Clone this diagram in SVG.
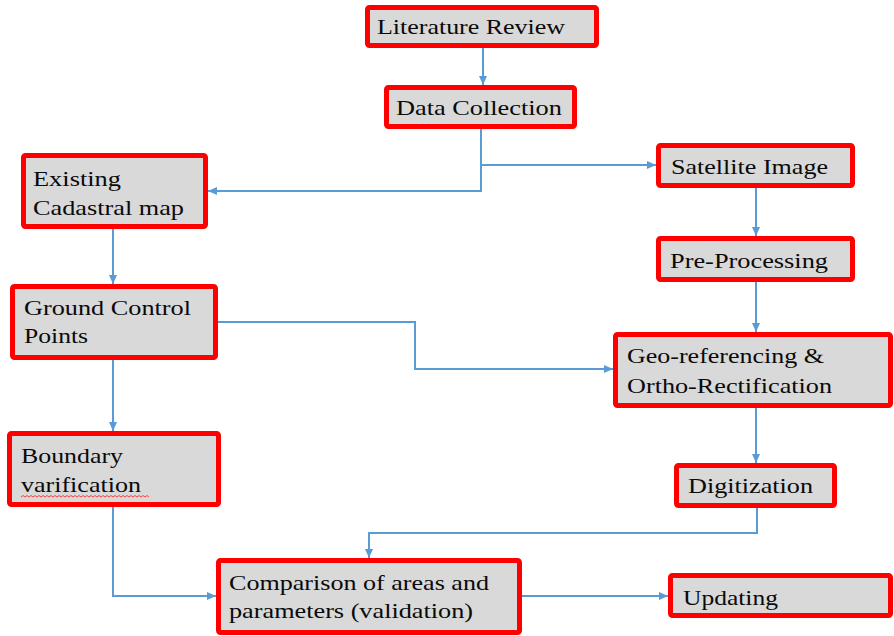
<svg xmlns="http://www.w3.org/2000/svg" width="894" height="636" viewBox="0 0 894 636">
<style>
.box{fill:#d9d9d9;stroke:#ff0000;stroke-width:5;}
text{font-family:'Liberation Serif','Times New Roman',serif;font-size:22px;fill:#0a0a0a;}
.c{fill:none;stroke:#5b9bd5;stroke-width:2;}
.a{marker-end:url(#ah);}
</style>
<defs>
<marker id="ah" markerUnits="userSpaceOnUse" markerWidth="9" markerHeight="8" refX="9" refY="4" orient="auto">
<path d="M0,0 L9,4 L0,8 z" fill="#5b9bd5"/>
</marker>
</defs>
<rect width="894" height="636" fill="#ffffff"/>
<g id="connectors">
<path class="c a" d="M483,48 V85"/>
<path class="c a" d="M481,129 V191 H208"/>
<path class="c a" d="M481,165 H656"/>
<path class="c a" d="M113,229 V284"/>
<path class="c a" d="M218,322 H415 V369 H613"/>
<path class="c a" d="M756,188 V236"/>
<path class="c a" d="M756,282 V332"/>
<path class="c a" d="M113,360 V431"/>
<path class="c a" d="M756,408 V463"/>
<path class="c a" d="M757,508 V533 H369 V558"/>
<path class="c a" d="M113,507 V596 H216"/>
<path class="c a" d="M522,596 H668"/>
</g>
<g id="literature-review">
<rect class="box" x="367.5" y="7.5" width="229" height="38" rx="2"/>
<text transform="translate(377,34) scale(1.15,1)" textLength="163.5" lengthAdjust="spacingAndGlyphs">Literature Review</text>
</g>
<g id="data-collection">
<rect class="box" x="386.5" y="87.5" width="188" height="39" rx="2"/>
<text transform="translate(396,115) scale(1.15,1)" textLength="144.3" lengthAdjust="spacingAndGlyphs">Data Collection</text>
</g>
<g id="existing-cadastral-map">
<rect class="box" x="23.5" y="155.5" width="182" height="71" rx="2"/>
<text transform="translate(33,186) scale(1.15,1)" textLength="76.5" lengthAdjust="spacingAndGlyphs">Existing</text>
<text transform="translate(33,215) scale(1.15,1)" textLength="131.3" lengthAdjust="spacingAndGlyphs">Cadastral map</text>
</g>
<g id="ground-control-points">
<rect class="box" x="12.5" y="286.5" width="203" height="71" rx="2"/>
<text transform="translate(24,315) scale(1.15,1)" textLength="145.2" lengthAdjust="spacingAndGlyphs">Ground Control</text>
<text transform="translate(24,343) scale(1.15,1)" textLength="55.7" lengthAdjust="spacingAndGlyphs">Points</text>
</g>
<g id="satellite-image">
<rect class="box" x="658.5" y="145.5" width="194" height="40" rx="2"/>
<text transform="translate(671,174) scale(1.15,1)" textLength="136.5" lengthAdjust="spacingAndGlyphs">Satellite Image</text>
</g>
<g id="pre-processing">
<rect class="box" x="658.5" y="238.5" width="194" height="41" rx="2"/>
<text transform="translate(670,268) scale(1.15,1)" textLength="137.4" lengthAdjust="spacingAndGlyphs">Pre-Processing</text>
</g>
<g id="geo-referencing">
<rect class="box" x="615.5" y="334.5" width="275" height="71" rx="2"/>
<text transform="translate(627,363) scale(1.15,1)" textLength="171.3" lengthAdjust="spacingAndGlyphs">Geo-referencing &amp;</text>
<text transform="translate(627,393) scale(1.15,1)" textLength="178.3" lengthAdjust="spacingAndGlyphs">Ortho-Rectification</text>
</g>
<g id="boundary-varification">
<rect class="box" x="9.5" y="433.5" width="209" height="71" rx="2"/>
<text transform="translate(21,463) scale(1.15,1)" textLength="88.7" lengthAdjust="spacingAndGlyphs">Boundary</text>
<text transform="translate(21,492) scale(1.15,1)" textLength="104.3" lengthAdjust="spacingAndGlyphs">varification</text>
<path d="M21,497 l2,-1.5 l2,1.5 l2,-1.5 l2,1.5 l2,-1.5 l2,1.5 l2,-1.5 l2,1.5 l2,-1.5 l2,1.5 l2,-1.5 l2,1.5 l2,-1.5 l2,1.5 l2,-1.5 l2,1.5 l2,-1.5 l2,1.5 l2,-1.5 l2,1.5 l2,-1.5 l2,1.5 l2,-1.5 l2,1.5 l2,-1.5 l2,1.5 l2,-1.5 l2,1.5 l2,-1.5 l2,1.5 l2,-1.5 l2,1.5 l2,-1.5 l2,1.5 l2,-1.5 l2,1.5 l2,-1.5 l2,1.5 l2,-1.5 l2,1.5 l2,-1.5 l2,1.5 l2,-1.5 l2,1.5 l2,-1.5 l2,1.5 l2,-1.5 l2,1.5 l2,-1.5 l2,1.5 l2,-1.5 l2,1.5 l2,-1.5 l2,1.5 l2,-1.5 l2,1.5 l2,-1.5 l2,1.5 l2,-1.5 l2,1.5 l2,-1.5 l2,1.5 l2,-1.5 l2,1.5" fill="none" stroke="#ff3030" stroke-width="0.9"/>
</g>
<g id="digitization">
<rect class="box" x="676.5" y="465.5" width="158" height="40" rx="2"/>
<text transform="translate(688,493) scale(1.15,1)" textLength="108.7" lengthAdjust="spacingAndGlyphs">Digitization</text>
</g>
<g id="comparison">
<rect class="box" x="218.5" y="560.5" width="301" height="72" rx="2"/>
<text transform="translate(229,590) scale(1.15,1)" textLength="226.1" lengthAdjust="spacingAndGlyphs">Comparison of areas and</text>
<text transform="translate(229,618) scale(1.15,1)" textLength="212.2" lengthAdjust="spacingAndGlyphs">parameters (validation)</text>
</g>
<g id="updating">
<rect class="box" x="670.5" y="575.5" width="220" height="40" rx="2"/>
<text transform="translate(683,605) scale(1.15,1)" textLength="82.6" lengthAdjust="spacingAndGlyphs">Updating</text>
</g>
</svg>
